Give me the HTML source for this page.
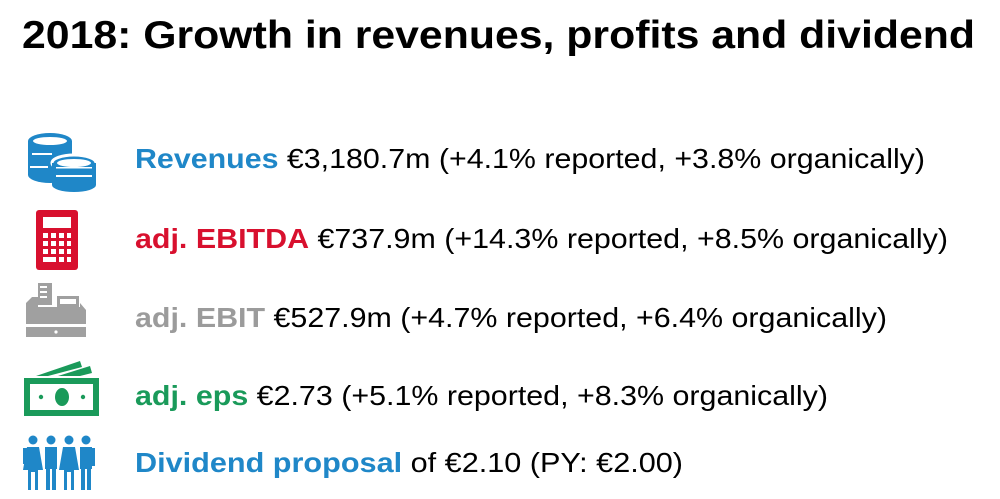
<!DOCTYPE html>
<html><head><meta charset="utf-8"><style>
html,body{margin:0;padding:0;background:#fff;width:1000px;height:499px;overflow:hidden}
svg{display:block}
text{font-family:"Liberation Sans",Arial,sans-serif}
</style></head><body>
<svg width="1000" height="499" viewBox="0 0 1000 499">
<text x="22" y="48" font-size="39" font-weight="bold" fill="#000" textLength="953" lengthAdjust="spacingAndGlyphs">2018: Growth in revenues, profits and dividend</text>

<g fill="#1f87c8">
<ellipse cx="50" cy="141" rx="22" ry="8"/>
<rect x="28" y="141" width="44" height="34"/>
<ellipse cx="50" cy="175" rx="22" ry="8"/>
<ellipse cx="74" cy="163" rx="22" ry="8" stroke="#fff" stroke-width="3"/>
<rect x="52" y="163" width="44" height="22"/>
<ellipse cx="74" cy="185" rx="22" ry="7"/>
<ellipse cx="50" cy="141" rx="17" ry="4" fill="#fff"/>
<ellipse cx="74" cy="163" rx="17" ry="4" fill="#fff"/>
<g fill="#fff"><rect x="32" y="153" width="20" height="2"/><rect x="30" y="166" width="18" height="2"/><rect x="56" y="175" width="36" height="2"/><rect x="56" y="167" width="36" height="1.5"/></g>
</g>

<g>
<rect x="36" y="210" width="42" height="60" rx="3" fill="#d8102e"/>
<rect x="43" y="217" width="28" height="11" fill="#fff"/>
<g fill="#fff">
<rect x="43" y="233" width="5" height="5"/><rect x="51" y="233" width="5" height="5"/><rect x="59" y="233" width="5" height="5"/><rect x="67" y="233" width="4" height="5"/>
<rect x="43" y="241" width="5" height="5"/><rect x="51" y="241" width="5" height="5"/><rect x="59" y="241" width="5" height="5"/><rect x="67" y="241" width="4" height="5"/>
<rect x="43" y="249" width="5" height="5"/><rect x="51" y="249" width="5" height="5"/><rect x="59" y="249" width="5" height="5"/><rect x="67" y="249" width="4" height="5"/>
<rect x="43" y="257" width="13" height="5"/><rect x="59" y="257" width="5" height="5"/><rect x="67" y="257" width="4" height="5"/>
</g></g>

<g fill="#a0a0a0">
<rect x="38" y="283" width="14" height="22"/>
<rect x="40" y="286" width="7" height="2" fill="#fff"/><rect x="40" y="291" width="7" height="2" fill="#fff"/><rect x="40" y="296" width="7" height="2" fill="#fff"/>
<rect x="57" y="296" width="22" height="11"/><rect x="60" y="299" width="16" height="5" fill="#fff"/>
<path d="M32 297 L38 297 L38 307 L80 307 L80 303 L86 310 L86 324 L26 324 L26 303 Z"/>
<rect x="26" y="327" width="60" height="10"/>
<circle cx="56" cy="332" r="1.6" fill="#fff"/>
</g>

<g fill="#1a9a5a">
<path d="M36 376 L80 361 L82 367 L48 376 Z"/>
<path d="M58 376 L90 366 L92 373 L80 376 Z"/>
<rect x="24" y="378" width="75" height="38"/>
<rect x="30" y="384" width="63" height="26" fill="#fff"/>
<ellipse cx="62" cy="397" rx="7" ry="9"/>
<circle cx="41" cy="397" r="2.2"/><circle cx="83" cy="397" r="2.2"/>
</g>

<g fill="#1f87c8">
<circle cx="33" cy="440" r="4.5"/><circle cx="51" cy="440" r="4.5"/><circle cx="69" cy="440" r="4.5"/><circle cx="86" cy="440" r="4.5"/>
<path d="M27 447 L39 447 L43 470 L38 470 L38 490 L35 490 L35 472 L31 472 L31 490 L28 490 L28 470 L23 470 Z"/>
<rect x="45" y="447" width="12" height="22"/><rect x="46" y="467" width="4" height="23"/><rect x="52" y="467" width="4" height="23"/>
<path d="M63 447 L75 447 L79 470 L74 470 L74 490 L71 490 L71 472 L67 472 L67 490 L64 490 L64 470 L59 470 Z"/>
<rect x="80" y="447" width="12" height="22"/><rect x="81" y="467" width="4" height="23"/><rect x="87" y="467" width="4" height="23"/>
<rect x="91" y="448" width="4" height="18"/><rect x="23" y="448" width="4" height="16"/>
</g>

<g font-size="28" fill="#000">
<text x="135" y="168" textLength="790" lengthAdjust="spacingAndGlyphs"><tspan font-weight="bold" fill="#1f87c8">Revenues</tspan> €3,180.7m (+4.1% reported, +3.8% organically)</text>
<text x="135" y="248" textLength="813" lengthAdjust="spacingAndGlyphs"><tspan font-weight="bold" fill="#d8102e">adj. EBITDA</tspan> €737.9m (+14.3% reported, +8.5% organically)</text>
<text x="135" y="327" textLength="752" lengthAdjust="spacingAndGlyphs"><tspan font-weight="bold" fill="#9b9b9b">adj. EBIT</tspan> €527.9m (+4.7% reported, +6.4% organically)</text>
<text x="135" y="405" textLength="693" lengthAdjust="spacingAndGlyphs"><tspan font-weight="bold" fill="#1a9a5a">adj. eps</tspan> €2.73 (+5.1% reported, +8.3% organically)</text>
<text x="135" y="472" textLength="548" lengthAdjust="spacingAndGlyphs"><tspan font-weight="bold" fill="#1f87c8">Dividend proposal</tspan> of €2.10 (PY: €2.00)</text>
</g>
</svg>
</body></html>
